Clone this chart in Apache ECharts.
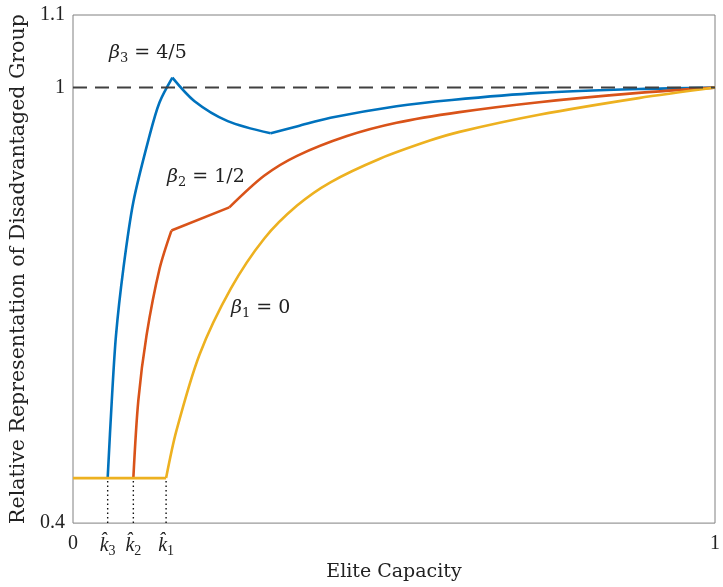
<!DOCTYPE html>
<html>
<head>
<meta charset="utf-8">
<script src="https://cdn.jsdelivr.net/npm/echarts@6/dist/echarts.min.js"></script>
<style>
  html, body { margin: 0; padding: 0; background: #fff; }
  #chart { width: 723px; height: 587px; }
</style>
</head>
<body>
<div id="chart"></div>
<script>
// Thresholds k̂3, k̂2, k̂1 on the elite-capacity axis
const kHatValues = [0.054, 0.094, 0.145];
const kHatNames = ['3', '2', '1'];
// Representation level before each threshold is reached
const floorLevel = 0.462;
const parityLevel = 1;

// beta3 = 4/5 : rise, fall after the peak, slow recovery
const beta3Rise = [[0.054, 0.462], [0.0604, 0.5685], [0.067, 0.659], [0.0785, 0.751], [0.094, 0.8425], [0.119, 0.933], [0.1347, 0.9795], [0.1548, 1.0137]];
const beta3Fall = [[0.1548, 1.0137], [0.1893, 0.9812], [0.241, 0.9538], [0.308, 0.937]];
const beta3Tail = [[0.308, 0.937], [0.35, 0.9468], [0.401, 0.9585], [0.504, 0.9744], [0.59, 0.983], [0.726, 0.9927], [0.881, 0.998], [1, 1]];

// beta2 = 1/2 : steep rise, short linear stretch, then concave approach
const beta2Rise = [[0.094, 0.462], [0.1017, 0.5685], [0.1146, 0.659], [0.135, 0.751], [0.1533, 0.803]];
const beta2Mid = [[0.1533, 0.803], [0.2435, 0.835]];
const beta2Tail = [[0.2435, 0.835], [0.2977, 0.8785], [0.349, 0.906], [0.4268, 0.9333], [0.504, 0.9516], [0.602, 0.9662], [0.726, 0.9799], [0.881, 0.9927], [1, 1]];

// beta1 = 0 : flat floor, then concave approach
const beta1Floor = [[0, 0.462], [0.145, 0.462]];
const beta1Tail = [[0.145, 0.462], [0.161, 0.527], [0.197, 0.632], [0.246, 0.7233], [0.2977, 0.7918], [0.349, 0.8374], [0.401, 0.8695], [0.478, 0.902], [0.5557, 0.927], [0.602, 0.939], [0.726, 0.9625], [0.881, 0.9855], [1, 1]];

const yTickValues = [0.4, 1, 1.1];

const BLUE = '#0072BD';
const RED = '#D95319';
const YELLOW = '#EDB120';
const SERIF = '"Liberation Serif", "DejaVu Serif", serif';
const WIDE_SERIF = '"DejaVu Serif", "Liberation Serif", serif';
const INK = '#222';

function curve(data, color) {
  return {
    type: 'line',
    data: data,
    smooth: data.length > 2 ? 0.3 : false,
    showSymbol: false,
    silent: true,
    lineStyle: { color: color, width: 2.6 },
    z: 3
  };
}

const dropLines = kHatValues.map(k => ({
  type: 'line',
  data: [[k, 0.4], [k, floorLevel]],
  showSymbol: false,
  silent: true,
  lineStyle: { color: '#111', width: 1.4, type: [1.5, 3] },
  z: 2
}));

const xLabelValues = [0].concat(kHatValues, [1]);

const betaRich = {
  b: { fontFamily: WIDE_SERIF, fontStyle: 'italic', fontSize: 19, fill: INK },
  s: { fontFamily: WIDE_SERIF, fontSize: 13, fill: INK, padding: [10, 0, 0, 0] },
  n: { fontFamily: WIDE_SERIF, fontSize: 19, fill: INK }
};

const chart = echarts.init(document.getElementById('chart'), null, { renderer: 'canvas' });

chart.setOption({
  animation: false,
  backgroundColor: '#fff',
  grid: {
    left: 71, right: 6, top: 15, bottom: 61,
    show: true, borderColor: '#808080', borderWidth: 1, backgroundColor: 'transparent'
  },
  xAxis: {
    type: 'value', min: 0, max: 1,
    name: 'Elite Capacity', nameLocation: 'middle', nameGap: 34,
    nameTextStyle: { fontFamily: WIDE_SERIF, fontSize: 19, color: INK },
    axisLine: { show: false }, axisTick: { show: false }, splitLine: { show: false },
    axisLabel: {
      customValues: xLabelValues,
      margin: 11,
      fontFamily: SERIF, fontSize: 20, color: INK,
      formatter: function (v) {
        const i = kHatValues.findIndex(k => Math.abs(k - v) < 1e-9);
        if (i >= 0) return '{k|k\u0302}{s|' + kHatNames[i] + '}';
        return String(v);
      },
      rich: {
        k: { fontFamily: SERIF, fontStyle: 'italic', fontSize: 20, color: INK },
        s: { fontFamily: SERIF, fontSize: 14, color: INK, padding: [10, 0, 0, 0] }
      }
    }
  },
  yAxis: {
    type: 'value', min: 0.4, max: 1.1,
    name: 'Relative Representation of Disadvantaged Group', nameLocation: 'middle', nameGap: 44,
    nameTextStyle: { fontFamily: WIDE_SERIF, fontSize: 20.5, color: INK },
    axisLine: { show: false }, axisTick: { show: false }, splitLine: { show: false },
    axisLabel: {
      customValues: yTickValues,
      margin: 8,
      fontFamily: SERIF, fontSize: 20, color: INK,
      formatter: v => String(Math.round(v * 10) / 10)
    }
  },
  graphic: [
    { type: 'text', left: 109, top: 44, style: { rich: betaRich, text: '{b|β}{s|3}{n| = 4/5}' } },
    { type: 'text', left: 167, top: 168, style: { rich: betaRich, text: '{b|β}{s|2}{n| = 1/2}' } },
    { type: 'text', left: 231, top: 299, style: { rich: betaRich, text: '{b|β}{s|1}{n| = 0}' } }
  ],
  series: dropLines.concat([
    curve(beta3Rise, BLUE), curve(beta3Fall, BLUE), curve(beta3Tail, BLUE),
    curve(beta2Rise, RED), curve(beta2Mid, RED), curve(beta2Tail, RED),
    curve(beta1Floor, YELLOW), curve(beta1Tail, YELLOW),
    {
      type: 'line',
      data: [[0, parityLevel], [1, parityLevel]],
      showSymbol: false,
      silent: true,
      lineStyle: { color: '#404040', width: 2, type: [14, 8] },
      z: 4
    }
  ])
});
</script>
</body>
</html>
